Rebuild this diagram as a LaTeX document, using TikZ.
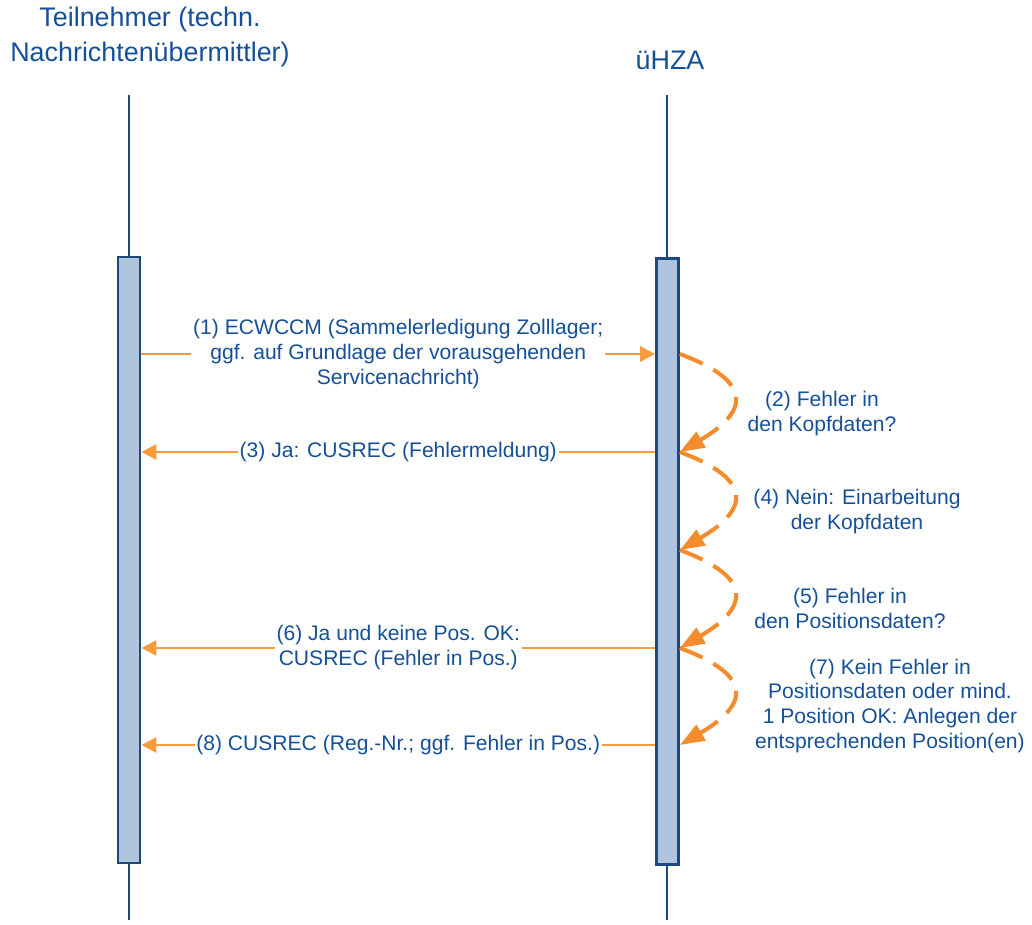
\documentclass[tikz,border=0pt]{standalone}
\usepackage{fontspec}
\setmainfont{Liberation Sans}
\usetikzlibrary{arrows.meta}
\definecolor{navyline}{RGB}{31,73,125}
\definecolor{textblue}{RGB}{22,80,150}
\definecolor{msgorange}{RGB}{248,155,60}
\definecolor{steporange}{RGB}{242,140,45}
\definecolor{barblue}{RGB}{176,196,222}

\begin{document}
\begin{tikzpicture}[x=0.02cm,y=-0.02cm,
    party/.style={text=textblue,font=\fontsize{15.3}{19.8}\selectfont,align=center},
    actbar/.style={draw=navyline,fill=barblue,line width=1.6pt,inner sep=0pt,minimum width=0.44cm,minimum height=12.12cm},
    msg/.style={draw=msgorange,line width=1.6pt,-{Triangle[length=8.5pt,width=8.5pt]}},
    selfmsg/.style={draw=steporange,line width=2.3pt,dash pattern=on 14pt off 7pt,-{Triangle[length=14pt,width=10pt]}},
    lbl/.style={text=textblue,font=\fontsize{12}{14.2}\selectfont,align=center,inner sep=1pt}]
  \useasboundingbox (0,0) rectangle (1032,924);
  % participants and lifelines
  \node[party] (pA) at (150,37) {Teilnehmer (techn.\\Nachrichtenübermittler)};
  \node[party] (pB) at (670,60) {üHZA};
  \coordinate (topA) at (129,95); \coordinate (botA) at (129,920);
  \coordinate (topB) at (667,95); \coordinate (botB) at (667,920);
  \draw[navyline,line width=1.3pt] (topA)--(botA) (topB)--(botB);
  \node[actbar] (actA) at (129,560) {};
  \node[actbar] (actB) at (667.5,561.5) {};
  \foreach \i/\y in {1/354,3/452,4/550,6/648,8/745}{
    \coordinate (a\i) at (actA.east |- 0,\y);
    \coordinate (bw\i) at (actB.west |- 0,\y);
    \coordinate (be\i) at (actB.east |- 0,\y);}
  % messages
  \draw[msg] (a1) -- node[lbl,fill=white] (m1) {(1) ECWCCM (Sammelerledigung Zolllager;\\ggf. auf Grundlage der vorausgehenden\\Servicenachricht)} (bw1);
  \foreach \i/\t in {3/{(3) Ja: CUSREC (Fehlermeldung)},6/{(6) Ja und keine Pos. OK:\\CUSREC (Fehler in Pos.)},8/{(8) CUSREC (Reg.-Nr.; ggf. Fehler in Pos.)}}
    \draw[msg] (bw\i) -- node[lbl,fill=white] (m\i) {\t} (a\i);
  % internal steps
  \foreach \a/\b in {1/3,3/4,4/6,6/8}
    \draw[selfmsg] (be\a) .. controls +(75,28) and +(68,-40) .. (be\b);
  \node[lbl] (m2) at (822,414) {(2) Fehler in\\den Kopfdaten?};
  \node[lbl] (m4) at (857,512) {(4) Nein: Einarbeitung\\der Kopfdaten};
  \node[lbl] (m5) at (850,608) {(5) Fehler in\\den Positionsdaten?};
  \node[lbl] (m7) at (890,706) {(7) Kein Fehler in\\Positionsdaten oder mind.\\1 Position OK: Anlegen der\\entsprechenden Position(en)};
\end{tikzpicture}
\end{document}
